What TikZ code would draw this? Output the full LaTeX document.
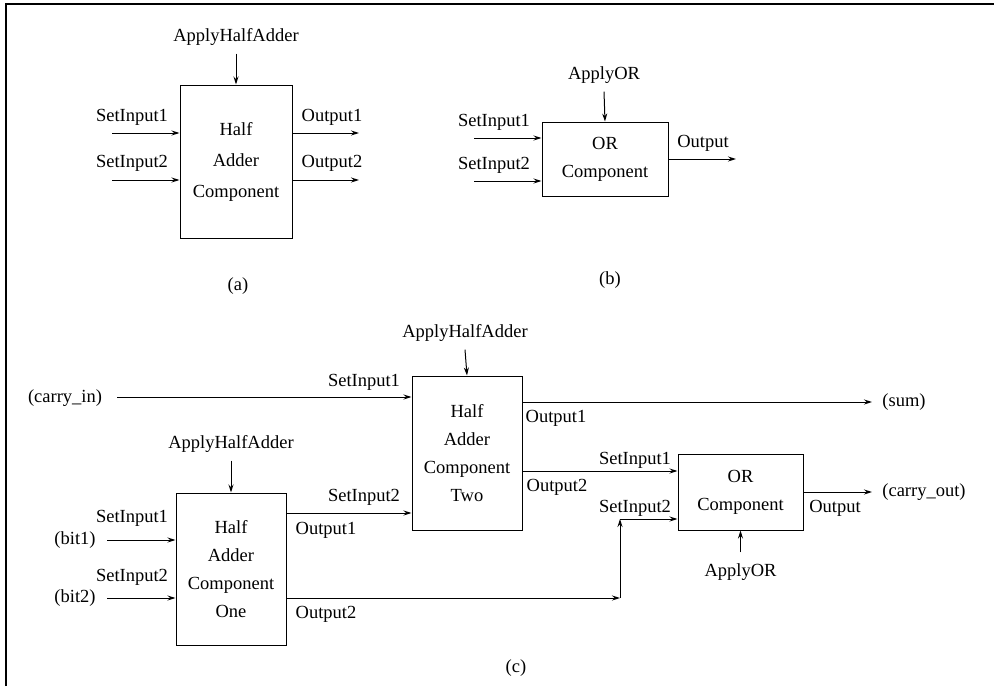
\documentclass[tikz,border=0pt]{standalone}
\usepackage{fontspec}
\setmainfont{Liberation Serif}
\usetikzlibrary{
    arrows.meta,    % For arrow tips
    positioning     % For relative positioning of nodes
}
\tikzset{
    % Style for the component boxes
    comp/.style={
        draw,
        line width=1pt,
        rectangle,
        align=center,
        inner sep=0pt,
        font=\fontsize{18.5}{28}\selectfont
    },
    % Style for port and signal names
    lbl/.style={
        inner sep=0pt,
        font=\fontsize{18.5}{22}\selectfont
    },
    % Style for the signal lines
    arrow/.style={
        -{Stealth[length=8pt,width=5pt]},
        line width=1pt
    }
}

\begin{document}
\begin{tikzpicture}[x=1pt, y=-1pt]
        \useasboundingbox (0,0) rectangle (994,686);

        % --- Frame ---
        \draw[line width=1.2pt] (6,686) -- (6,4) -- (994,4);

        % --- (a) Half adder component ---
        \node (ha) [comp, minimum width=112pt, minimum height=153pt] at (236,161.5)
            {Half\\[3pt]Adder\\[3pt]Component};
        \node (ha_apply) [lbl] at (236,37) {ApplyHalfAdder};
        \node (ha_s1)    [lbl] at (132,117) {SetInput1};
        \node (ha_s2)    [lbl] at (132,163) {SetInput2};
        \node (ha_o1)    [lbl] at (332,117) {Output1};
        \node (ha_o2)    [lbl] at (332,163) {Output2};
        \node (cap_a)    [lbl] at (238,286) {(a)};
        \coordinate (ha_in1)  at (112,133);
        \coordinate (ha_in2)  at (112,180);
        \coordinate (ha_out1) at (359,133);
        \coordinate (ha_out2) at (359,180);
        % Arrows
        \draw [arrow] ([yshift=-8pt]ha_apply.south) -- (ha.north);
        \draw [arrow] (ha_in1) -- (ha.west |- ha_in1);
        \draw [arrow] (ha_in2) -- (ha.west |- ha_in2);
        \draw [arrow] (ha.east |- ha_out1) -- (ha_out1);
        \draw [arrow] (ha.east |- ha_out2) -- (ha_out2);

        % --- (b) OR component ---
        \node (orb) [comp, minimum width=126pt, minimum height=74pt] at (605,159)
            {OR\\Component};
        \node (orb_apply) [lbl] at (604,75) {ApplyOR};
        \node (orb_s1)    [lbl] at (494,122) {SetInput1};
        \node (orb_s2)    [lbl] at (494,165) {SetInput2};
        \node (orb_o)     [lbl] at (703,143) {Output};
        \node (cap_b)     [lbl] at (610,280) {(b)};
        \coordinate (orb_in1) at (474,138);
        \coordinate (orb_in2) at (474,181);
        \coordinate (orb_out) at (736,159);
        % Arrows
        \draw [arrow] ([yshift=-8pt]orb_apply.south) -- (orb.north);
        \draw [arrow] (orb_in1) -- (orb.west |- orb_in1);
        \draw [arrow] (orb_in2) -- (orb.west |- orb_in2);
        \draw [arrow] (orb.east |- orb_out) -- (orb_out);

        % --- (c) Full adder built from the components ---
        \node (one) [comp, minimum width=110pt, minimum height=152pt] at (231,569)
            {Half\\Adder\\Component\\One};
        \node (two) [comp, minimum width=110pt, minimum height=154pt] at (467,453)
            {Half\\Adder\\Component\\Two};
        \node (orc) [comp, minimum width=125pt, minimum height=76pt] at (740.5,492)
            {OR\\Component};

        % Names round Half Adder One
        \node (one_apply) [lbl] at (231,444) {ApplyHalfAdder};
        \node (one_s1)    [lbl] at (132,518) {SetInput1};
        \node (one_s2)    [lbl] at (132,577) {SetInput2};
        \node (bit1)      [lbl] at (75,540) {(bit1)};
        \node (bit2)      [lbl] at (75,598) {(bit2)};
        \node (one_o1)    [lbl] at (326,530) {Output1};
        \node (one_o2)    [lbl] at (326,614) {Output2};

        % Names round Half Adder Two
        \node (two_apply) [lbl] at (465,333) {ApplyHalfAdder};
        \node (carry_in)  [lbl] at (65,398) {(carry\_in)};
        \node (two_s1)    [lbl] at (364,382) {SetInput1};
        \node (two_s2)    [lbl] at (364,497) {SetInput2};
        \node (two_o1)    [lbl] at (556,418) {Output1};
        \node (two_o2)    [lbl] at (557,487) {Output2};
        \node (sum)       [lbl] at (904,402) {(sum)};

        % Names round the OR component
        \node (orc_s1)    [lbl] at (635,460) {SetInput1};
        \node (orc_s2)    [lbl] at (635,508) {SetInput2};
        \node (orc_o)     [lbl] at (835,508) {Output};
        \node (carry_out) [lbl] at (924,492) {(carry\_out)};
        \node (orc_apply) [lbl] at (740.5,572) {ApplyOR};
        \node (cap_c)     [lbl] at (516,668) {(c)};

        \coordinate (cin)    at (117,397);
        \coordinate (b1)     at (107,540);
        \coordinate (b2)     at (107,598);
        \coordinate (sumend) at (872,402);
        \coordinate (coend)  at (872,492);
        \coordinate (low)    at (620,598);
        \coordinate (up)     at (620,519);

        % Arrows
        \draw [arrow] ([yshift=-8pt]one_apply.south) -- (one.north);
        \draw [arrow] ([yshift=-8pt]two_apply.south) -- (two.north);
        \draw [arrow] ([yshift=11pt]orc_apply.north) -- (orc.south);
        \draw [arrow] (cin) -- (two.west |- cin);
        \draw [arrow] (b1) -- (one.west |- b1);
        \draw [arrow] (b2) -- (one.west |- b2);
        \draw [arrow] (one.east |- 0,513) -- (two.west |- 0,513);
        \draw [arrow] (one.east |- low) -- (low);
        \draw [arrow] (low) -- (up);
        \draw [arrow] (up) -- (orc.west |- up);
        \draw [arrow] (two.east |- sumend) -- (sumend);
        \draw [arrow] (two.east |- 0,471) -- (orc.west |- 0,471);
        \draw [arrow] (orc.east |- coend) -- (coend);

\end{tikzpicture}
\end{document}
